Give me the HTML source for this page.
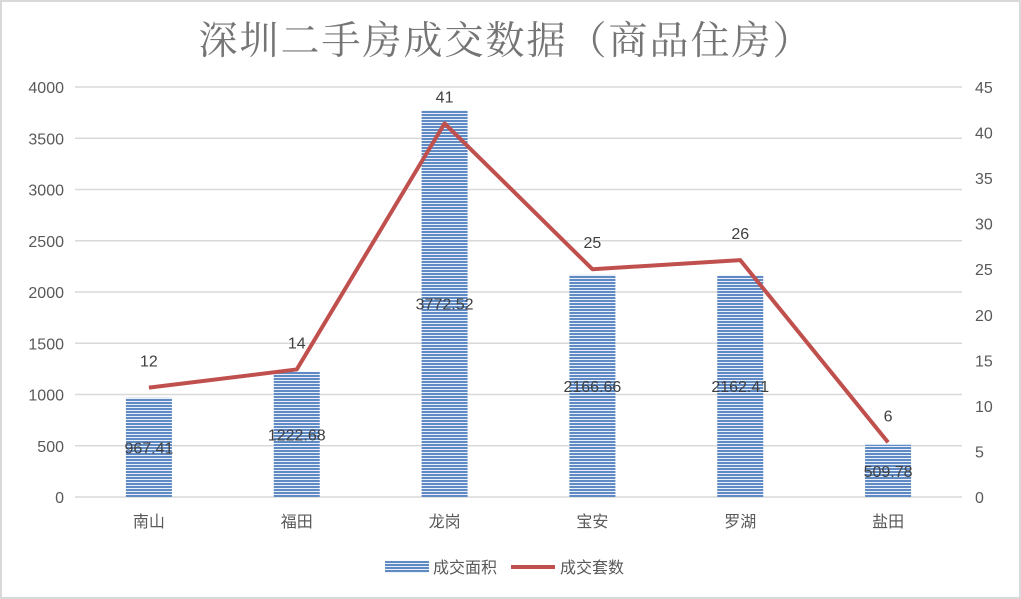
<!DOCTYPE html>
<html><head><meta charset="utf-8"><style>
body{margin:0;background:#fff}
svg{display:block;font-family:"Liberation Sans","Noto Sans CJK SC",sans-serif}
</style></head><body>
<svg width="1021" height="599">
<defs>
<pattern id="stripe" width="6" height="3" patternUnits="userSpaceOnUse">
<rect width="6" height="3" fill="#e8eff8"/><rect width="6" height="2" fill="#5f8ac4"/>
</pattern>
</defs>
<rect x="1" y="1" width="1019" height="597" fill="#fff" stroke="#d9d9d9" stroke-width="2"/>
<text x="506" y="54" text-anchor="middle" font-size="39" fill="#757575" style="font-family:'Liberation Serif','Noto Serif CJK SC',serif;letter-spacing:2px">深圳二手房成交数据（商品住房）</text>
<g id="grid"></g><g id="bars"></g><g id="line"></g><g id="labels"></g>
<g>
<rect x="385" y="561" width="44" height="12" fill="url(#stripe)"/>
<text x="433" y="573" font-size="16" fill="#595959">成交面积</text>
<line x1="511" y1="567" x2="555" y2="567" stroke="#c0504d" stroke-width="4"/>
<text x="560" y="573" font-size="16" fill="#595959">成交套数</text>
</g>
</svg>
<script>
const categories=["南山","福田","龙岗","宝安","罗湖","盐田"];
const areaValues=[967.41,1222.68,3772.52,2166.66,2162.41,509.78];
const countValues=[12,14,41,25,26,6];
const leftTicks=[0,500,1000,1500,2000,2500,3000,3500,4000];
const rightTicks=[0,5,10,15,20,25,30,35,40,45];
const NS="http://www.w3.org/2000/svg";
const x0=75,x1=962,y0=497,y1=87;
const band=(x1-x0)/categories.length;
const xc=i=>x0+band*(i+0.5);
const yL=v=>y0-(v/4000)*(y0-y1);
const yR=v=>y0-(v/45)*(y0-y1);
function mk(tag,attrs,parent,txt){const e=document.createElementNS(NS,tag);for(const k in attrs)e.setAttribute(k,attrs[k]);if(txt!==undefined)e.textContent=txt;document.getElementById(parent).appendChild(e);return e;}
leftTicks.forEach(t=>{
 const g=mk('line',{x1:x0,x2:x1,y1:yL(t),y2:yL(t),stroke:'#d9d9d9','stroke-width':1.5},'grid');
 
 
 const l=mk('text',{x:64,y:yL(t)+6,'text-anchor':'end','font-size':16,fill:'#595959'},'grid',t);
 
 
});
rightTicks.forEach(t=>{
 const l=mk('text',{x:975,y:yR(t)+6,'font-size':16,fill:'#595959'},'grid',t);
 
 
});
categories.forEach((c,i)=>{
 const l=mk('text',{x:xc(i),y:527,'text-anchor':'middle','font-size':16,fill:'#595959'},'grid',c);
 
 
});
areaValues.forEach((v,i)=>{
 const b=mk('rect',{x:xc(i)-23,y:yL(v),width:46,height:y0-yL(v),fill:'url(#stripe)'},'bars');
 
 
 const t=mk('text',{x:xc(i),y:(yL(v)+y0)/2+6,'text-anchor':'middle','font-size':16,fill:'#404040'},'labels',v.toFixed(2));
 
 
});
const p=mk('polyline',{points:countValues.map((v,i)=>xc(i)+','+yR(v)).join(' '),fill:'none',stroke:'#c0504d','stroke-width':4,'stroke-linejoin':'round'},'line');


countValues.forEach((v,i)=>{
 const t=mk('text',{x:xc(i),y:yR(v)-21,'text-anchor':'middle','font-size':16,fill:'#404040'},'labels',v);
 
 
});
</script>
</body></html>
